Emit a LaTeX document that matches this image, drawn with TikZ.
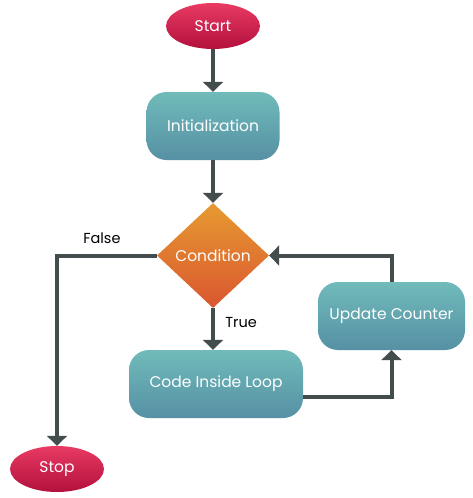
\documentclass[tikz,border=0pt]{standalone}
\usepackage{fontspec}
\setmainfont{Poppins}
\usetikzlibrary{shapes.geometric,arrows.meta}
\definecolor{termtop}{HTML}{E83A63}
\definecolor{termbot}{HTML}{B3103D}
\definecolor{proctop}{HTML}{70BBBA}
\definecolor{procbot}{HTML}{5690A4}
\definecolor{condtop}{HTML}{E69A30}
\definecolor{condbot}{HTML}{DA5630}
\definecolor{flowline}{HTML}{434D4E}
\begin{document}
\begin{tikzpicture}[x=1pt, y=-1pt,
	terminal/.style={ellipse, top color=termtop, bottom color=termbot, draw=none, minimum width=94pt, minimum height=46pt, text=white, font=\fontsize{15.5}{18}\selectfont},
	process/.style={rectangle, rounded corners=20pt, top color=proctop, bottom color=procbot, draw=none, minimum height=68pt, text=white, font=\fontsize{15.5}{18}\selectfont},
	decision/.style={diamond, top color=condtop, bottom color=condbot, draw=none, minimum width=112pt, minimum height=105pt, inner sep=0pt, text=white, font=\fontsize{15.5}{18}\selectfont},
	flow/.style={draw=flowline, line width=4pt, -{Triangle[width=20pt,length=10pt]}},
	label/.style={text=black, font=\fontsize{14.5}{17}\selectfont}]
	\useasboundingbox (0,0) rectangle (473,498);
	\node[terminal](start) at (213,26){Start};
	\node[process, minimum width=133pt](init) at (213,126){Initialization};
	\node[decision](cond) at (213,255.5){Condition};
	\node[process, minimum width=174pt](code) at (216,384){Code Inside Loop};
	\node[process, minimum width=147pt](update) at (391.5,316){Update Counter};
	\node[terminal](stop) at (57,469){Stop};

	\draw [flow] (start) -- (init);
	\draw [flow] (init) -- (cond);
	\draw [flow] (cond.west) -| node[label, pos=0.25, above=7pt, xshift=-5pt]{False}(stop.north);
	\draw [flow] (cond.south) -- node[label, right=7pt, pos=0.35]{True}(cond.south |- code.north);
	\draw [flow] ([yshift=-13pt]code.east) -| (update.south);
	\draw [flow] (update.north) |- (cond.east);
\end{tikzpicture}
\end{document}
